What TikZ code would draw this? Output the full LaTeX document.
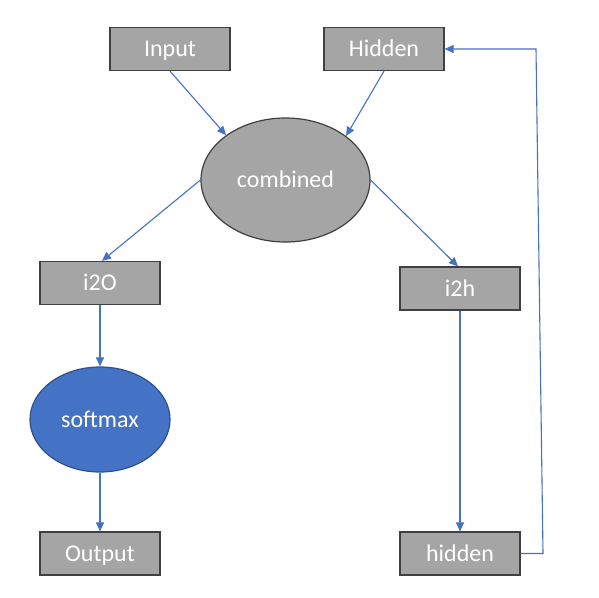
\documentclass[tikz,border=0pt]{standalone}
\usepackage{fontspec}
\setmainfont{Carlito}
\usetikzlibrary{shapes.geometric,arrows.meta}
\definecolor{boxgray}{HTML}{A5A5A5}
\definecolor{boxline}{HTML}{404040}
\definecolor{officeblue}{HTML}{4472C4}
\definecolor{blueline}{HTML}{2F528F}
\tikzset{
  labeltext/.style={text=white, font=\fontsize{24}{28}\selectfont, text height=17pt, text depth=1.5pt},
  grayrect/.style={draw=boxline, fill=boxgray, line width=1.2pt, minimum width=120pt, minimum height=43pt, inner sep=0pt, labeltext},
  grayell/.style={ellipse, draw=boxline, fill=boxgray, line width=1.2pt, minimum width=169pt, minimum height=124pt, inner sep=0pt, labeltext},
  blueell/.style={ellipse, draw=blueline, fill=officeblue, line width=1.2pt, minimum width=140pt, minimum height=105pt, inner sep=0pt, labeltext},
  conn/.style={draw=officeblue, line width=1.1pt, -{Triangle[width=8pt,length=9pt]}}
}
\begin{document}
\begin{tikzpicture}[x=1pt,y=-1pt]
\fill[white] (0,0) rectangle (599,597);
\useasboundingbox (0,0) rectangle (599,597);
\node[grayrect] (input) at (170,49) {Input};
\node[grayrect] (hiddenIn) at (384,49) {Hidden};
\node[grayell] (combined) at (285.5,180) {combined};
\node[grayrect] (i2o) at (100,283) {i2O};
\node[grayrect] (i2h) at (460,288.5) {i2h};
\node[blueell] (softmax) at (100,419.5) {softmax};
\node[grayrect] (output) at (100,553.5) {Output};
\node[grayrect] (hiddenOut) at (460,553.5) {hidden};
\coordinate (loopA) at (543,553.5);
\coordinate (loopB) at (536,49);
\draw[conn] (input.south) -- (combined.143);
\draw[conn] (hiddenIn.south) -- (combined.36);
\draw[conn] (combined.west) -- ([xshift=2pt]i2o.north);
\draw[conn] (combined.east) -- ([xshift=-2pt]i2h.north);
\draw[conn] (i2o.south) -- (softmax.north);
\draw[conn] (softmax.south) -- (output.north);
\draw[conn] (i2h.south) -- (hiddenOut.north);
\draw[conn] (hiddenOut.east) -- (loopA) -- (loopB) -- (hiddenIn.east);
\end{tikzpicture}
\end{document}
